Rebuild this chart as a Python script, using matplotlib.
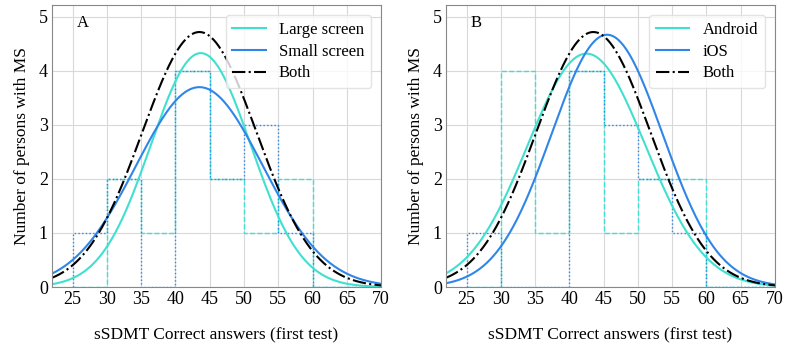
import numpy as np
import matplotlib
matplotlib.use("Agg")
import matplotlib.pyplot as plt

# bin edges of the score histograms
bin_edges = [25, 30, 35, 40, 45, 50, 55, 60, 65, 70]

# counts per bin
large_counts = [0, 2, 1, 4, 2, 1, 2, 0, 0]
small_counts = [1, 2, 0, 4, 2, 3, 1, 0, 0]
android_counts = [0, 4, 1, 4, 1, 2, 2, 0, 0]
ios_counts = [1, 0, 0, 4, 3, 2, 1, 0, 0]

# fitted normal curves: (mean, sd, peak height)
large_fit = (43.7, 7.3, 4.33)
small_fit = (43.5, 9.25, 3.70)
both_fit = (43.5, 8.34, 4.72)
android_fit = (42.5, 8.6, 4.32)
ios_fit = (45.5, 8.1, 4.67)

TURQ = "#40E0D0"
BLUE = "#2f86e8"

plt.rcParams["font.family"] = ["Liberation Serif", "DejaVu Serif"]

fig = plt.figure(figsize=(7.86, 3.46), dpi=100)


def gauss(x, fit):
    mu, sd, peak = fit
    return peak * np.exp(-0.5 * ((x - mu) / sd) ** 2)


def draw_panel(ax, letter, names, counts, fits):
    x = np.linspace(22, 70, 400)
    centers = np.array(bin_edges[:-1]) + 2.5
    ax.hist(centers, bins=bin_edges, weights=counts[0], histtype="step",
            color=TURQ, linestyle="--", linewidth=1.0)
    ax.hist(centers, bins=bin_edges, weights=counts[1], histtype="step",
            color=BLUE, linestyle=":", linewidth=1.0)
    ax.plot(x, gauss(x, fits[0]), color=TURQ, lw=1.5, label=names[0])
    ax.plot(x, gauss(x, fits[1]), color=BLUE, lw=1.5, label=names[1])
    ax.plot(x, gauss(x, both_fit), color="black", lw=1.5, ls="-.",
            label="Both")

    ax.set_xlim(22, 70)
    ax.set_ylim(0, 5.22)
    ax.set_xticks(range(25, 75, 5))
    ax.set_yticks(range(0, 6))
    ax.tick_params(labelsize=13, length=0, pad=3)
    ax.grid(True, color="#d9d9d9", linewidth=0.8)
    ax.set_axisbelow(True)
    for s in ax.spines.values():
        s.set_color("#888888")
        s.set_linewidth(0.8)
    ax.set_xlabel("sSDMT Correct answers (first test)", fontsize=12.5,
                  labelpad=14)
    ax.set_ylabel("Number of persons with MS", fontsize=12.5, labelpad=6)
    ax.text(0.075, 0.935, letter, transform=ax.transAxes, fontsize=12,
            va="center", ha="left")
    leg = ax.legend(loc="upper right", fontsize=12, handlelength=2.0,
                    borderaxespad=0.6, labelspacing=0.35, handletextpad=0.8,
                    fancybox=True)
    leg.get_frame().set_edgecolor("#dddddd")


ax1 = fig.add_axes([0.0662, 0.1705, 0.4186, 0.815])
draw_panel(ax1, "A", ["Large screen", "Small screen"],
           [large_counts, small_counts], [large_fit, small_fit])

ax2 = fig.add_axes([0.5674, 0.1705, 0.4186, 0.815])
draw_panel(ax2, "B", ["Android", "iOS"],
           [android_counts, ios_counts], [android_fit, ios_fit])

fig.savefig("out.png", dpi=100)
